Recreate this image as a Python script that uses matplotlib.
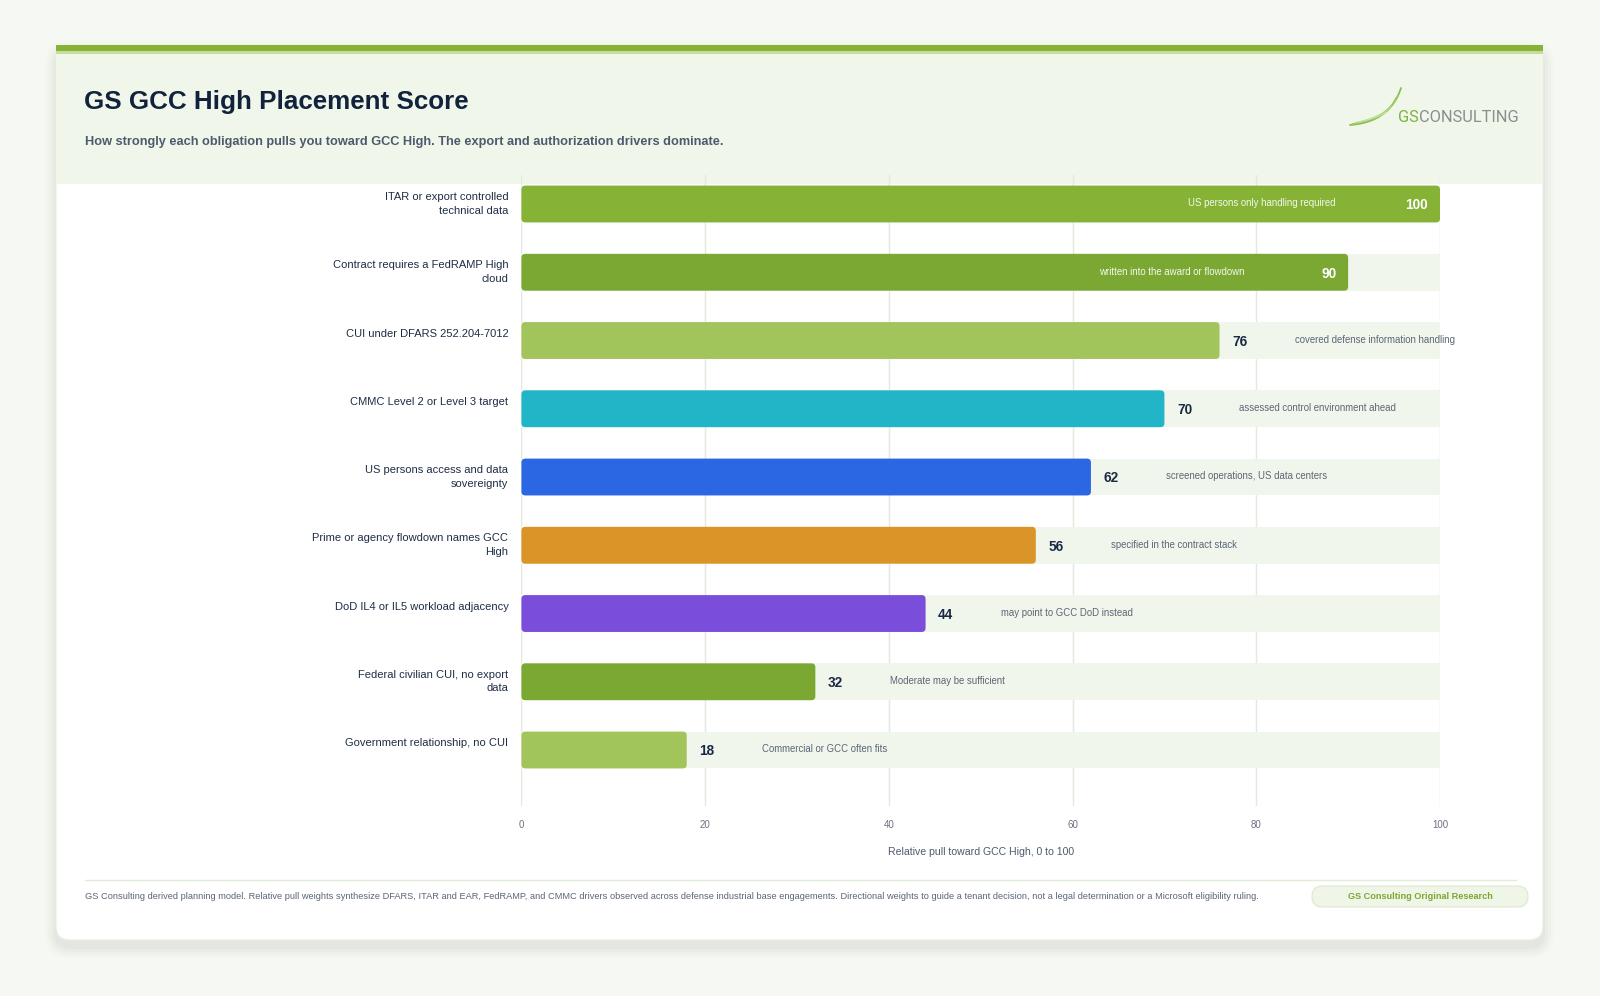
import numpy as np
import matplotlib.pyplot as plt
from matplotlib.patches import FancyBboxPatch, Rectangle

# data
categories = [
    "ITAR or export controlled\ntechnical data",
    "Contract requires a FedRAMP High\ncloud",
    "CUI under DFARS 252.204-7012",
    "CMMC Level 2 or Level 3 target",
    "US persons access and data\nsovereignty",
    "Prime or agency flowdown names GCC\nHigh",
    "DoD IL4 or IL5 workload adjacency",
    "Federal civilian CUI, no export\ndata",
    "Government relationship, no CUI",
]
scores = [100, 90, 76, 70, 62, 56, 44, 32, 18]
notes = [
    "US persons only handling required",
    "written into the award or flowdown",
    "covered defense information handling",
    "assessed control environment ahead",
    "screened operations, US data centers",
    "specified in the contract stack",
    "may point to GCC DoD instead",
    "Moderate may be sufficient",
    "Commercial or GCC often fits",
]
bar_colors = ["#86b236", "#7aa832", "#a2c55b", "#21b5c7", "#2b67e3",
              "#da9428", "#7b4ddb", "#7aa832", "#a2c55b"]
xticks = [0, 20, 40, 60, 80, 100]

title = "GS GCC High Placement Score"
subtitle = ("How strongly each obligation pulls you toward GCC High. "
            "The export and authorization drivers dominate.")
xlabel = "Relative pull toward GCC High, 0 to 100"
footnote = ("GS Consulting derived planning model. Relative pull weights synthesize DFARS, "
            "ITAR and EAR, FedRAMP, and CMMC drivers observed across defense industrial base "
            "engagements. Directional weights to guide a tenant decision, not a legal "
            "determination or a Microsoft eligibility ruling.")
badge = "GS Consulting Original Research"

W, H = 1600, 996
plt.rcParams['font.family'] = ['Liberation Sans', 'DejaVu Sans']

fig = plt.figure(figsize=(W / 100, H / 100), dpi=100, facecolor="#f6f8f3")

# background layer in pixel coords
bg = fig.add_axes([0, 0, 1, 1], zorder=0)
bg.set_xlim(0, W)
bg.set_ylim(H, 0)
bg.axis("off")

# card shadow
for k, a in enumerate([0.05, 0.04, 0.03, 0.02]):
    g = 2 + 3 * k
    bg.add_patch(FancyBboxPatch((56 - g, 45 + 4 - g + 3), 1487 + 2 * g, 895 + 2 * g,
                                boxstyle="round,pad=0,rounding_size=%d" % (14 + g),
                                fc="#7d8a70", ec="none", alpha=a))
bg.add_patch(FancyBboxPatch((56, 45), 1487, 895, boxstyle="round,pad=0,rounding_size=14",
                            fc="white", ec="#e8eee2", lw=0.8))
# header band + top stripe
bg.add_patch(Rectangle((56, 45), 1487, 139, fc="#f1f6eb", ec="none"))
bg.add_patch(Rectangle((56, 45), 1487, 6, fc="#86b236", ec="none"))
bg.add_patch(Rectangle((56, 51), 1487, 3, fc="#c4dc9c", ec="none"))

bg.text(84, 102, title, fontsize=18.7, fontweight="bold", color="#11223d",
        va="center", ha="left")
bg.text(85, 142, subtitle, fontsize=9.15, fontweight="bold", color="#4d5a6c",
        va="center", ha="left")

# logo
t = np.linspace(0, 1, 60)
for (p0, p1, p2), lw, c in zip(
        [((1350, 125), (1390, 122), (1401, 88)),
         ((1352, 124), (1386, 119), (1396, 98)),
         ((1355, 123), (1383, 117), (1391, 106)),
         ((1359, 122), (1380, 117), (1386, 112))],
        [1.3, 1.1, 1.0, 0.9], ["#8cbf4a", "#9fca66", "#b3d584", "#c8e1a4"]):
    xs = (1 - t) ** 2 * p0[0] + 2 * (1 - t) * t * p1[0] + t ** 2 * p2[0]
    ys = (1 - t) ** 2 * p0[1] + 2 * (1 - t) * t * p1[1] + t ** 2 * p2[1]
    bg.plot(xs, ys, color=c, lw=lw, solid_capstyle="round")
gs = bg.text(1398, 117, "GS", fontsize=11.8, color="#7cb342", va="center", ha="left",
             family="Roboto")
fig.canvas.draw()
r = fig.canvas.get_renderer()
ext = gs.get_window_extent(renderer=r)
bg.text(1398 + ext.width, 117, "CONSULTING", fontsize=11.8, color="#8b8d8f",
        va="center", ha="left", family="Roboto")

# footer
bg.plot([85, 1516], [880, 880], color="#e2ecd6", lw=1)
bg.text(85, 896, footnote, fontsize=6.65, color="#5c6676", va="center", ha="left")
bg.add_patch(FancyBboxPatch((1312, 886), 216, 21, boxstyle="round,pad=0,rounding_size=10.5",
                            fc="#eff5e7", ec="#dde9cd", lw=0.8))
bg.text(1420, 896.5, badge, fontsize=6.6, fontweight="bold", color="#7aa832",
        va="center", ha="center")

# main chart
ax = fig.add_axes([521.4 / W, 1 - 806 / H, (1440 - 521.4) / W, (806 - 175) / H], zorder=1)
ax.set_facecolor("none")
ax.set_xlim(0, 100)
ax.set_ylim(8.82, -0.425)
for s in ax.spines.values():
    s.set_visible(False)
ax.set_xticks(xticks)
ax.set_yticks([])
ax.tick_params(axis="x", length=0, pad=10, labelsize=7, labelcolor="#6b7280")
ax.grid(axis="x", color="#e4eadb", lw=1)
ax.set_axisbelow(True)
ax.set_xlabel(xlabel, fontsize=7.6, color="#4d5a6c", labelpad=12)

bh = 0.54
ypos = np.arange(len(scores))
ax.barh(ypos, [100] * len(scores), height=bh, color="#f1f6ec", zorder=1)

px_x = 100 / (1440 - 521.4)
aspect = (1 / 68.25) / px_x
for i, (v, c, note, cat) in enumerate(zip(scores, bar_colors, notes, categories)):
    ax.add_patch(FancyBboxPatch((0, i - bh / 2), v, bh,
                                boxstyle="round,pad=0,rounding_size=%.3f" % (4 * px_x),
                                mutation_aspect=aspect, fc=c, ec="none", zorder=2))
    ax.text(-13 * px_x, i - bh / 2 + 0.095, cat, ha="right", va="top", fontsize=8,
            color="#1f2d45", linespacing=1.45, clip_on=False)
    if v >= 85:
        ax.text(v - 12 * px_x, i + 0.02, str(v), ha="right", va="center", fontsize=9.8,
                fontweight="bold", color="white", zorder=3)
        ax.text(v - 104 * px_x, i - 0.01, note, ha="right", va="center", fontsize=6.9,
                color="#f3f8ec", zorder=3)
    else:
        ax.text(v + 12.5 * px_x, i + 0.02, str(v), ha="left", va="center", fontsize=9.8,
                fontweight="bold", color="#1a2a44", zorder=3)
        ax.text(v + 75 * px_x, i - 0.01, note, ha="left", va="center", fontsize=6.9,
                color="#5c6676", zorder=3, clip_on=False)

fig.savefig("out.png", dpi=100, facecolor=fig.get_facecolor())
